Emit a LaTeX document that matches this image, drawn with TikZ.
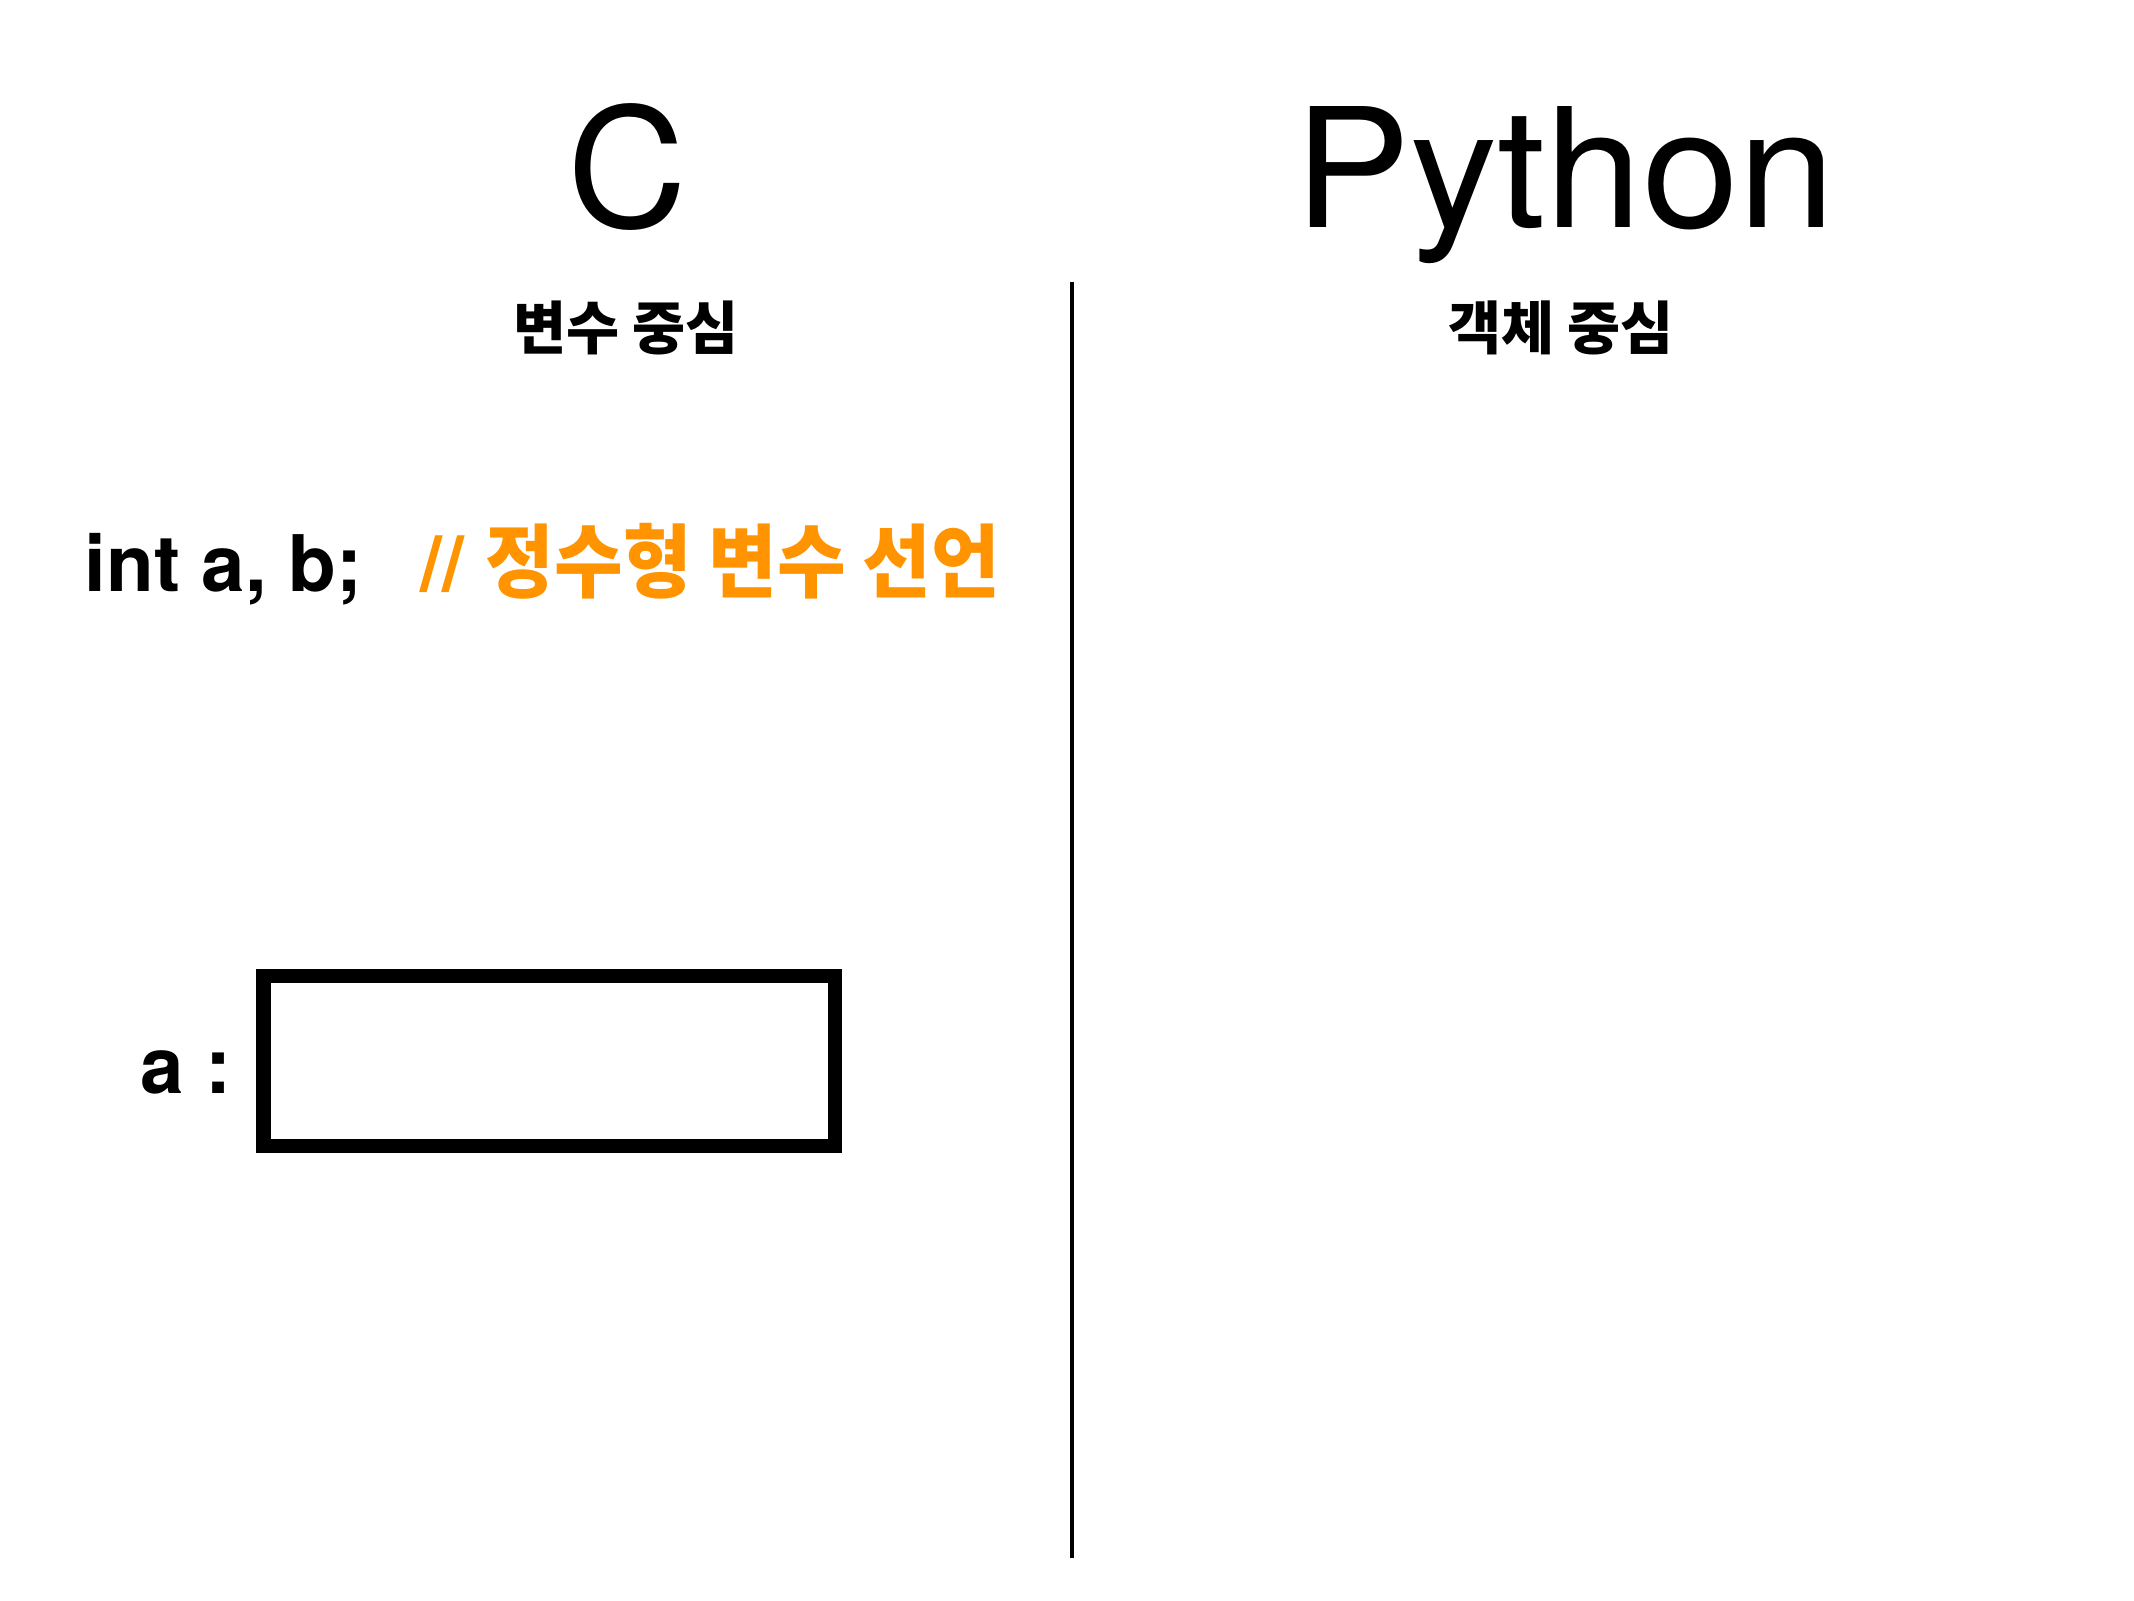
\documentclass[tikz,border=0pt]{standalone}
\usepackage{fontspec}
\setmainfont{TeX Gyre Heros}
\newfontfamily\kr{Noto Sans CJK KR}[FakeStretch=0.93]
\newfontfamily\krsub{Noto Sans CJK KR}[FakeStretch=1.0]
\newfontfamily\wide{TeX Gyre Heros}[FakeStretch=1.05]
\definecolor{keyorange}{RGB}{255,147,0}
\begin{document}
\begin{tikzpicture}[x=0.01cm,y=-0.01cm,
	title/.style={anchor=base,inner sep=0,font=\fontsize{47.2}{50}\selectfont},
	sub/.style={anchor=base,inner sep=0,font=\krsub\bfseries\fontsize{16.4}{18}\selectfont},
	code/.style={anchor=base west,inner sep=0,font=\bfseries\fontsize{22.2}{25}\selectfont}]
	\useasboundingbox (0,0) rectangle (2134,1600);
	\node (ctitle) at (627,227) [title]{C};
	\node (pytitle) at (1565,227) [title]{\wide Python};
	\node (csub) at (626,349) [sub]{변수 중심};
	\node (pysub) at (1561,349) [sub]{객체 중심};
	\coordinate (top) at (1072,282);
	\coordinate (bottom) at (1072,1558);
	\draw [line width=1.14pt] (top)--(bottom);
	\node (decl) at (84,591) [code]{int a, b;};
	\node (comment) at (420,591) [code,text=keyorange]{//\ \kr\fontsize{22.8}{25}\selectfont 정수형 변수 선언};
	\node (alabel) at (140,1093) [code]{a :};
	\draw [line width=4pt] (263.5,976) rectangle (835,1146);
\end{tikzpicture}
\end{document}
